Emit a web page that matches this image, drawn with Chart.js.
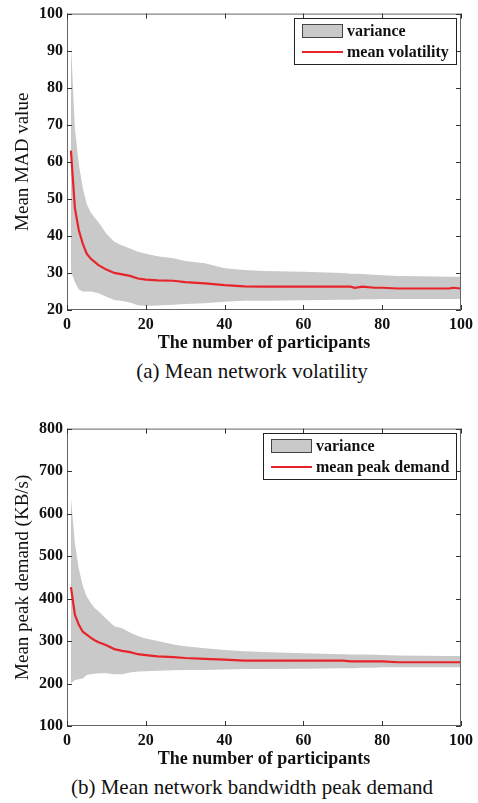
<!DOCTYPE html>
<html lang="en">
<head>
<meta charset="UTF-8">
<title>Mean network volatility and peak demand</title>
<script src="https://cdn.jsdelivr.net/npm/chart.js"></script>
<style>
  body { margin: 0; background: #fff; width: 478px; height: 803px; position: relative; overflow: hidden;
         font-family: "Liberation Serif", "Times New Roman", serif; }
  .box { position: absolute; left: 0; width: 478px; }
  .caption { position: absolute; left: 0; width: 504px; text-align: center; font-size: 21px; line-height: 24px; color: #111; }
</style>
</head>
<body>

<div class="box" style="top:0;height:355px"><canvas id="volChart"></canvas></div>
<div class="caption" style="top:359px">(a) Mean network volatility</div>

<div class="box" style="top:415px;height:356px"><canvas id="peakChart"></canvas></div>
<div class="caption" style="top:775px">(b) Mean network bandwidth peak demand</div>

<script>
  // values
  const participants = [1, 2, 3, 4, 5, 6, 7, 8, 10, 12, 14, 16, 18, 20, 23, 27, 30, 35, 40, 45, 50, 60, 70, 72, 73, 75, 78, 80, 84, 90, 97, 98, 100];

  const volMean  = [63, 47.5, 41.5, 37.9, 35.2, 33.9, 33.0, 32.1, 30.9, 30.0, 29.6, 29.2, 28.5, 28.2, 28.0, 27.9, 27.5, 27.2, 26.7, 26.4, 26.3, 26.3, 26.3, 26.3, 26.0, 26.3, 26.0, 26.0, 25.8, 25.8, 25.8, 26.0, 25.8];
  const volUpper = [92, 69, 59.4, 53, 48.6, 46.4, 45, 43.7, 40.6, 38.4, 37.4, 36.6, 35.7, 35.2, 34.5, 34.0, 33.2, 32.6, 31.3, 30.8, 30.5, 30.3, 30.0, 29.8, 29.8, 29.7, 29.5, 29.4, 29.2, 29.1, 29.0, 29.0, 29.0];
  const volLower = [30.5, 27.5, 25.5, 25, 25, 25, 24.8, 24.5, 23.6, 22.7, 22.4, 22.0, 21.3, 21.1, 21.2, 21.4, 21.6, 21.8, 22.2, 22.5, 22.5, 22.6, 22.8, 22.8, 22.8, 22.9, 22.9, 23.0, 23.0, 23.0, 23.0, 23.0, 23.0];

  const peakMean  = [427, 362, 338, 322, 315, 308, 302, 297, 290, 281, 277, 274, 269, 267, 264, 262, 260, 258, 256, 254, 254, 254, 254, 252, 252, 252, 252, 252, 250, 250, 250, 250, 250];
  const peakUpper = [638, 530, 470, 430, 405, 390, 378, 370, 352, 335, 330, 320, 312, 306, 300, 292, 288, 283, 279, 276, 274, 271, 269, 268.5, 268, 268, 267.5, 267, 266, 265.5, 265, 265, 265];
  const peakLower = [200, 208, 210, 212, 220, 222, 223, 224, 224, 222, 222, 226, 228, 229, 230, 231, 232, 232, 233, 234, 234, 235, 236, 236, 236, 237, 237, 238, 238, 238, 238, 238, 238];

  const serif = '"Liberation Serif", "Times New Roman", serif';
  const bandColor = '#c9c9c9';
  const meanColor = '#e8242b';

  // matlab style box with inward ticks
  const framePlugin = {
    id: 'frame',
    afterDatasetsDraw(chart) {
      const { ctx, chartArea: a, scales } = chart;
      ctx.save();
      ctx.strokeStyle = '#666';
      ctx.lineWidth = 1;
      ctx.strokeRect(a.left + 0.5, a.top + 0.5, a.right - a.left - 1, a.bottom - a.top - 1);
      ctx.strokeStyle = '#333';
      ctx.beginPath();
      scales.x.ticks.forEach(t => {
        const px = Math.round(scales.x.getPixelForValue(t.value)) + 0.5;
        ctx.moveTo(px, a.bottom); ctx.lineTo(px, a.bottom - 5);
        ctx.moveTo(px, a.top); ctx.lineTo(px, a.top + 5);
      });
      scales.y.ticks.forEach(t => {
        const py = Math.round(scales.y.getPixelForValue(t.value)) + 0.5;
        ctx.moveTo(a.left, py); ctx.lineTo(a.left + 5, py);
        ctx.moveTo(a.right, py); ctx.lineTo(a.right - 5, py);
      });
      ctx.stroke();
      ctx.restore();
    }
  };

  const boxLegend = {
    id: 'boxLegend',
    afterDraw(chart) {
      const { ctx, chartArea: a } = chart;
      const items = chart.data.datasets.filter(d => !d.label.startsWith('_'));
      ctx.save();
      ctx.font = 'bold 16px ' + serif;
      const textW = Math.max(...items.map(d => ctx.measureText(d.label).width));
      const w = Math.round(8 + 41 + 4 + textW + 7), h = 46;
      const x = Math.round(a.right - 5 - w), y = Math.round(a.top + 4);
      ctx.fillStyle = '#fff';
      ctx.fillRect(x, y, w, h);
      ctx.strokeStyle = '#222';
      ctx.lineWidth = 1;
      ctx.strokeRect(x + 0.5, y + 0.5, w, h);
      items.forEach((d, i) => {
        const cy = y + 13 + i * 21;
        if (d.fill) {
          ctx.fillStyle = d.backgroundColor;
          ctx.fillRect(x + 8, cy - 7, 41, 14);
          ctx.strokeStyle = '#444';
          ctx.strokeRect(x + 8.5, cy - 6.5, 40, 13);
        } else {
          ctx.strokeStyle = d.borderColor;
          ctx.lineWidth = 2;
          ctx.beginPath();
          ctx.moveTo(x + 8, cy); ctx.lineTo(x + 49, cy);
          ctx.stroke();
          ctx.lineWidth = 1;
        }
        ctx.fillStyle = '#111';
        ctx.textBaseline = 'middle';
        ctx.fillText(d.label, x + 53, cy + 1);
      });
      ctx.restore();
    }
  };

  function makeChart(id, cfg) {
    const pts = arr => participants.map((x, i) => ({ x: x, y: arr[i] }));
    return new Chart(document.getElementById(id), {
      type: 'line',
      data: {
        datasets: [
          { label: 'variance', data: pts(cfg.upper), backgroundColor: bandColor, borderWidth: 0, pointRadius: 0, fill: '+1', order: 2 },
          { label: '_lower', data: pts(cfg.lower), borderWidth: 0, pointRadius: 0, fill: false, order: 3 },
          { label: cfg.meanLabel, data: pts(cfg.mean), borderColor: meanColor, borderWidth: 2.2, pointRadius: 0, fill: false, order: 0 }
        ]
      },
      options: {
        responsive: true,
        maintainAspectRatio: false,
        animation: false,
        layout: { padding: { top: 13, right: 12, left: 0, bottom: 0 } },
        plugins: { legend: { display: false }, tooltip: { enabled: false } },
        scales: {
          x: {
            type: 'linear', min: 0, max: 100,
            ticks: { stepSize: 20, maxRotation: 0, padding: 5, color: '#111', font: { family: serif, size: 16, weight: 'bold' } },
            grid: { display: false, drawTicks: false },
            border: { display: false },
            title: { display: true, text: 'The number of participants', color: '#111',
                     font: { family: serif, size: 18, weight: 'bold' }, padding: { top: 0, bottom: 1 } },
            afterFit(s) { s.height = 45; }
          },
          y: {
            min: cfg.yMin, max: cfg.yMax,
            ticks: { stepSize: cfg.yStep, padding: 4, color: '#111', font: { family: serif, size: 16, weight: 'bold' } },
            grid: { display: false, drawTicks: false },
            border: { display: false },
            title: { display: true, text: cfg.yTitle, color: '#111',
                     font: { family: serif, size: 19, weight: 'normal' }, padding: { top: 12, bottom: 0 } },
            afterFit(s) { s.width = 67; }
          }
        }
      },
      plugins: [framePlugin, boxLegend]
    });
  }

  makeChart('volChart', {
    upper: volUpper, lower: volLower, mean: volMean, meanLabel: 'mean volatility',
    yMin: 20, yMax: 100, yStep: 10, yTitle: 'Mean MAD value'
  });

  makeChart('peakChart', {
    upper: peakUpper, lower: peakLower, mean: peakMean, meanLabel: 'mean peak demand',
    yMin: 100, yMax: 800, yStep: 100, yTitle: 'Mean peak demand (KB/s)'
  });
</script>

</body>
</html>
